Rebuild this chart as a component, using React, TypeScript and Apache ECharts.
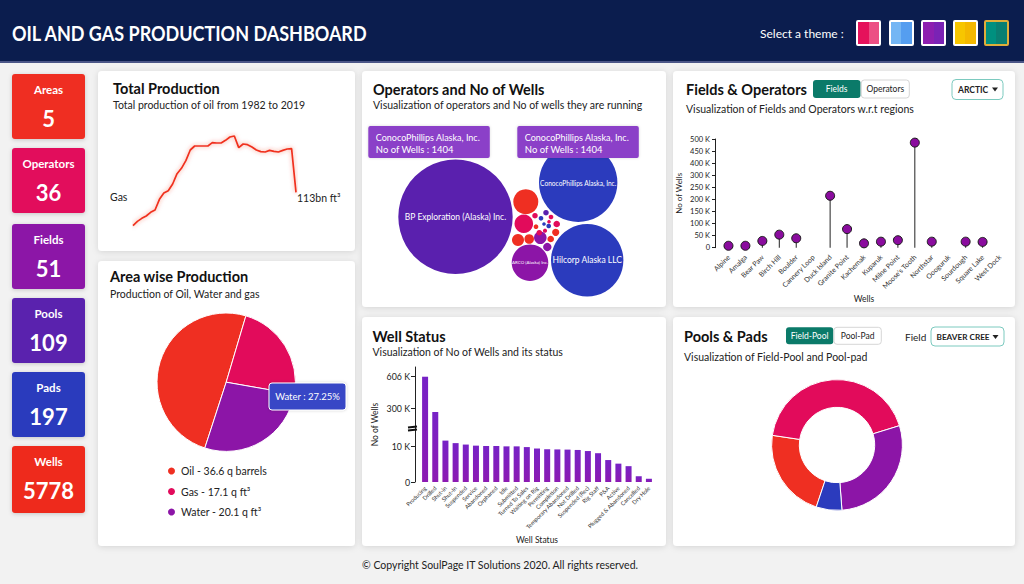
import React, { useEffect, useRef } from 'react';
import * as echarts from 'echarts';

const FONT = 'Lato, "Open Sans", Arial, sans-serif';

// ---------- DATA ----------
const kpiLabels = ['Areas', 'Operators', 'Fields', 'Pools', 'Pads', 'Wells'];
const kpiValues = [5, 36, 51, 109, 197, 5778];

const years = ['1982','1983','1984','1985','1986','1987','1988','1989','1990','1991','1992','1993','1994','1995','1996','1997','1998','1999','2000','2001','2002','2003','2004','2005','2006','2007','2008','2009','2010','2011','2012','2013','2014','2015','2016','2017','2018','2019'];
const productionValues = [13,26,35,42,53,60,92,111,118,138,169,185,208,240,252,252,252,252,262,261,261,269,279,282,247,258,256,249,240,235,234,239,236,234,239,243,244,113];
const productionLabel = 'Gas';
const productionUnit = 'bn ft³';

const areaNames = ['Oil', 'Gas', 'Water'];
const areaValues = [36.6, 17.1, 20.1];
const areaUnits = ['q barrels', 'q ft³', 'q ft³'];
const areaTooltip = 'Water : 27.25%';

const operatorNames = [
  'BP Exploration (Alaska) Inc.', 'ConocoPhillips Alaska, Inc.', 'Hilcorp Alaska LLC', 'ARCO (Alaska) Inc.',
  'Operator 5', 'Operator 6', 'Operator 7', 'Operator 8', 'Operator 9', 'Operator 10',
  'Operator 11', 'Operator 12', 'Operator 13', 'Operator 14', 'Operator 15', 'Operator 16',
  'Operator 17', 'Operator 18', 'Operator 19', 'Operator 20', 'Operator 21', 'Operator 22', 'Operator 23',
];
const operatorWells = [2990, 1404, 1197, 306, 143, 79, 33, 21, 36, 16, 7, 5, 7, 5, 10, 12, 10, 5, 7, 3, 5, 4, 3];
// packed-bubble layout
const operatorLayoutX = [95.5, 218.2, 227.2, 170, 165.8, 163.8, 158, 169.2, 180.3, 187.3, 175, 181, 186, 191, 196.7, 195.7, 190.7, 176, 179.3, 184, 188.7, 185, 189];
const operatorLayoutY = [146.8, 112.7, 190.3, 192.7, 131.7, 153.7, 170, 169, 167.7, 177, 145.7, 148.3, 142.7, 147, 154, 162.3, 169, 156.7, 162.7, 154, 156, 160.7, 151.7];
const operatorTooltipName = 'ConocoPhillips Alaska, Inc.';
const operatorTooltipWells = 1404;

const fieldNames = ['Alpine','Amalga','Bear Paw','Birch Hill','Boulder','Cannery Loop','Duck Island','Granite Point','Kachemak','Kuparuk','Milne Point',"Moose's Tooth",'Northstar','Oooguruk','Sourdough','Square Lake','West Dock'];
const fieldWellsK = [8, 8, 28, 54, 39, null, 215, 77, 18, 25, 31, 485, 25, null, 25, 24, null];
const fieldTickValuesK = [0, 50, 100, 150, 200, 250, 300, 400, 450, 500];

const wellStatusNames = ['Producing','Drilled','Shut-in','Shut-In','Suspended','Service','Abandoned','Orphaned','Idle','Submitted','Turned To Sales','Waiting on Rig','Permitting','Completion','Temporary Abandoned','Not Drilled','Suspended (Rec)','Rig Staff','P&A','Active','Plugged & Abandoned','Cancelled','Dry Hole'];
const wellStatusValues = [606000, 265000, 11500, 10800, 10400, 10100, 10000, 10000, 9900, 9900, 9700, 9300, 9100, 9050, 9000, 8900, 8600, 8000, 6100, 5100, 4400, 1600, 900];
const wellTickValues = [0, 10000, 300000, 606000];

const poolNames = ['Pool A', 'Pool B', 'Pool C', 'Pool D'];
const poolValues = [14, 27, 18, 4];

// ---------- STYLE ----------
const RED = '#ef2f22';
const CRIMSON = '#e20b5b';
const PURPLE = '#8c15a7';
const VIOLET = '#5a20ae';
const BLUE = '#2b3bbd';
const TEAL = '#0b7a69';
const kpiColors = [RED, CRIMSON, PURPLE, VIOLET, BLUE, '#ee2a1e'];
const areaColors = [RED, CRIMSON, PURPLE];
const poolColors = [RED, CRIMSON, PURPLE, BLUE];
const bubbleColors = [VIOLET, BLUE, BLUE, PURPLE, RED, CRIMSON, RED, RED, PURPLE, PURPLE, CRIMSON, BLUE, VIOLET, CRIMSON, CRIMSON, RED, RED, RED, CRIMSON, BLUE, BLUE, CRIMSON, CRIMSON];
const bubbleLabelSizes = [8.5, 6.6, 8.5, 4.4];

const fmtK = (v: number) => (v === 0 ? '0' : `${v / 1000} K`);

// piecewise scale for the fields axis (ticks are evenly spaced)
const fieldScale = (vK: number) => {
  const t = fieldTickValuesK;
  for (let i = 0; i < t.length - 1; i++) {
    if (vK <= t[i + 1]) return i + (vK - t[i]) / (t[i + 1] - t[i]);
  }
  return t.length - 1;
};
// broken axis for well status
const WELL_LOWER_MAX = 15000;
const WELL_UPPER_MIN = 110000;
const WELL_AXIS_MAX = 700000;
const wellScale = (v: number) =>
  v <= WELL_LOWER_MAX ? (v / WELL_LOWER_MAX) * 54 : 54 + ((v - WELL_UPPER_MIN) / (WELL_AXIS_MAX - WELL_UPPER_MIN)) * 61;

const txt = (x: number, y: number, text: string, size: number, o: any = {}) => ({
  type: 'text',
  x,
  y,
  z: o.z ?? 20,
  scaleX: o.scaleX ?? 1,
  style: {
    text,
    fill: o.color ?? '#111',
    font: `${o.weight ?? 'normal'} ${size}px ${FONT}`,
    textAlign: o.align ?? 'left',
    textVerticalAlign: 'middle',
  },
});
const rect = (x: number, y: number, w: number, h: number, style: any, r = 4, z = 1) => ({
  type: 'rect',
  z,
  shape: { x, y, width: w, height: h, r },
  style,
});
const panel = (x: number, y: number, w: number, h: number) =>
  rect(x, y, w, h, { fill: '#fff', shadowBlur: 6, shadowColor: 'rgba(0,0,0,0.13)', shadowOffsetY: 1 }, 4, 0);

function buildGraphic() {
  const g: any[] = [];
  // header
  g.push(rect(0, 0, 1024, 62, { fill: '#0b1d4e' }, 0, 0));
  g.push(rect(0, 61, 1024, 2, { fill: '#4b5687' }, 0, 0));
  g.push(txt(12, 33, 'OIL AND GAS PRODUCTION DASHBOARD', 20, { color: '#fff', weight: 'bold', scaleX: 0.9 }));
  g.push(txt(760, 33, 'Select a theme :', 12, { color: '#fff' }));
  const swatches = [
    ['#e5125b', '#ec5084', '#fff'],
    ['#74b6f4', '#559ef0', '#fff'],
    ['#8d1fb0', '#7a23b5', '#fff'],
    ['#f7c600', '#f4b800', '#fff'],
    ['#00907f', '#0a7f72', '#e0ae3a'],
  ];
  const swX = [857, 890, 922, 954, 985];
  swatches.forEach((c, i) => {
    g.push(
      rect(swX[i], 21, 23, 24, {
        fill: new echarts.graphic.LinearGradient(0, 0, 1, 0, [
          { offset: 0, color: c[0] },
          { offset: 0.5, color: c[0] },
          { offset: 0.5, color: c[1] },
          { offset: 1, color: c[1] },
        ]),
        stroke: c[2],
        lineWidth: 2,
      }, 1, 2)
    );
  });

  // KPI cards
  const kTops = [74, 148, 224, 298, 372, 446];
  kpiLabels.forEach((l, i) => {
    g.push(rect(12, kTops[i], 73, i === 5 ? 67 : 65, { fill: kpiColors[i], shadowBlur: 4, shadowColor: 'rgba(0,0,0,0.18)', shadowOffsetY: 1 }, 3, 1));
    g.push(txt(48.5, kTops[i] + 15, l, 11.5, { color: '#fff', weight: 'bold', align: 'center' }));
    g.push(txt(48.5, kTops[i] + 44, String(kpiValues[i]), 22, { color: '#fff', weight: 'bold', align: 'center' }));
  });

  // panels
  g.push(panel(98, 71, 257, 180));
  g.push(panel(98, 261, 257, 285));
  g.push(panel(362, 71, 304, 236));
  g.push(panel(362, 317, 304, 229));
  g.push(panel(673, 71, 342, 236));
  g.push(panel(673, 317, 342, 229));

  // Total production
  g.push(txt(113, 88, 'Total Production', 14.5, { weight: 'bold' }));
  g.push(txt(113, 105, 'Total production of oil from 1982 to 2019', 10.5, { color: '#222' }));
  g.push(txt(110, 197, productionLabel, 10.5, { color: '#222' }));
  g.push(txt(297, 198, `${productionValues[productionValues.length - 1]}${productionUnit}`, 10.5, { color: '#222' }));

  // Area wise
  g.push(txt(110, 276, 'Area wise Production', 14.5, { weight: 'bold' }));
  g.push(txt(110, 294, 'Production of Oil, Water and gas', 10.5, { color: '#222' }));
  g.push(rect(269, 383, 77, 27, { fill: '#3846c6', stroke: '#fff', lineWidth: 1, shadowBlur: 3, shadowColor: 'rgba(0,0,0,0.2)' }, 3, 100));
  g.push(txt(307.5, 396.7, areaTooltip, 9.5, { color: '#fff', align: 'center', z: 101 }));

  // Operators
  g.push(txt(373, 89, 'Operators and No of Wells', 14.5, { weight: 'bold' }));
  g.push(txt(373, 105, 'Visualization of operators and No of wells they are running', 10.5, { color: '#222' }));
  [368.3, 517.3].forEach((bx) => {
    g.push(rect(bx, 126, 121.5, 32, { fill: '#8b3fc8', shadowBlur: 3, shadowColor: 'rgba(0,0,0,0.15)' }, 2, 100));
    g.push(txt(bx + 7.5, 137, operatorTooltipName, 10, { color: '#fff', z: 101, scaleX: 0.9 }));
    g.push(txt(bx + 7.5, 149, `No of Wells : ${operatorTooltipWells}`, 10, { color: '#fff', z: 101, scaleX: 0.95 }));
  });

  // Fields & Operators
  g.push(txt(686, 89, 'Fields & Operators', 14.5, { weight: 'bold' }));
  g.push(rect(813, 80, 47.5, 18, { fill: TEAL }, 3, 2));
  g.push(txt(836.5, 89, 'Fields', 8.5, { color: '#fff', align: 'center' }));
  g.push(rect(861.3, 80, 48, 18, { fill: '#fff', stroke: '#d6d6d6', lineWidth: 1 }, 3, 2));
  g.push(txt(885.3, 89, 'Operators', 8.5, { color: '#222', align: 'center' }));
  g.push(rect(952, 79.5, 51, 20, { fill: '#fff', stroke: '#7ccabf', lineWidth: 1 }, 4, 2));
  g.push(txt(958, 89.5, 'ARCTIC', 8.5, { color: '#222', weight: 'bold' }));
  g.push({ type: 'polygon', z: 20, shape: { points: [[992, 87.5], [998, 87.5], [995, 91.5]] }, style: { fill: '#222' } });
  g.push(txt(686, 109, 'Visualization of Fields and Operators w.r.t regions', 10.5, { color: '#222' }));

  // Well status
  g.push(txt(372.5, 336, 'Well Status', 14.5, { weight: 'bold' }));
  g.push(txt(372.5, 352, 'Visualization of No of Wells and its status', 10.5, { color: '#222' }));
  g.push({ type: 'line', z: 30, shape: { x1: 408, y1: 427.5, x2: 417, y2: 426.5 }, style: { stroke: '#111', lineWidth: 1.8 } });
  g.push({ type: 'line', z: 30, shape: { x1: 408, y1: 430.5, x2: 417, y2: 429.5 }, style: { stroke: '#111', lineWidth: 1.8 } });

  // Pools & Pads
  g.push(txt(684, 336, 'Pools & Pads', 14.5, { weight: 'bold' }));
  g.push(rect(786, 327.3, 47.3, 17, { fill: TEAL }, 3, 2));
  g.push(txt(809.6, 336, 'Field-Pool', 8.5, { color: '#fff', align: 'center' }));
  g.push(rect(834, 327.3, 47.3, 17, { fill: '#fff', stroke: '#d6d6d6', lineWidth: 1 }, 3, 2));
  g.push(txt(857.6, 336, 'Pool-Pad', 8.5, { color: '#222', align: 'center' }));
  g.push(txt(905, 336.5, 'Field', 10, { color: '#222' }));
  g.push(rect(931, 327, 73, 19, { fill: '#fff', stroke: '#7ccabf', lineWidth: 1 }, 4, 2));
  g.push(txt(936.5, 336.8, 'BEAVER CREE', 8.2, { color: '#222', weight: 'bold' }));
  g.push({ type: 'polygon', z: 20, shape: { points: [[992.5, 335], [998.5, 335], [995.5, 339]] }, style: { fill: '#222' } });
  g.push(txt(684, 357, 'Visualization of Field-Pool and Pool-pad', 10.5, { color: '#222' }));

  // footer
  g.push(txt(362, 565, '© Copyright SoulPage IT Solutions 2020. All rights reserved.', 10.5, { color: '#222' }));
  return g;
}

function buildOption(): any {
  const hidden = { show: false };
  return {
    animation: false,
    backgroundColor: '#f2f2f2',
    textStyle: { fontFamily: FONT },
    graphic: { elements: buildGraphic() },
    legend: {
      data: areaNames.map((n, i) => ({ name: n, itemStyle: { color: areaColors[i] } })),
      orient: 'vertical',
      left: 161,
      top: 460,
      itemWidth: 9,
      itemHeight: 9,
      itemGap: 8.5,
      icon: 'circle',
      selectedMode: false,
      textStyle: { fontSize: 10.5, color: '#222', lineHeight: 12, fontFamily: FONT },
      formatter: (name: string) => {
        const i = areaNames.indexOf(name);
        return `${name} - ${areaValues[i]} ${areaUnits[i]}`;
      },
    },
    grid: [
      { left: 133, top: 130, width: 163, height: 100 },
      { left: 360, top: 70, width: 310, height: 240 },
      { left: 720, top: 139, width: 288, height: 108.7 },
      { left: 420, top: 367, width: 234, height: 115 },
    ],
    xAxis: [
      { gridIndex: 0, type: 'category', data: years, boundaryGap: false, show: false },
      { gridIndex: 1, type: 'value', min: 0, max: 310, show: false },
      {
        gridIndex: 2,
        type: 'category',
        data: fieldNames,
        axisLine: hidden,
        axisTick: hidden,
        axisLabel: { rotate: 45, interval: 0, fontSize: 7, color: '#333', margin: 8 },
        name: 'Wells',
        nameLocation: 'middle',
        nameGap: 47,
        nameTextStyle: { fontSize: 8.5, color: '#222' },
      },
      {
        gridIndex: 3,
        type: 'category',
        data: wellStatusNames,
        axisLine: hidden,
        axisTick: hidden,
        axisLabel: { rotate: 45, interval: 0, fontSize: 5.8, color: '#333', margin: 5 },
        name: 'Well Status',
        nameLocation: 'middle',
        nameGap: 53,
        nameTextStyle: { fontSize: 8.5, color: '#222' },
      },
    ],
    yAxis: [
      { gridIndex: 0, type: 'value', min: 0, max: 300, show: false },
      { gridIndex: 1, type: 'value', min: 0, max: 240, inverse: true, show: false },
      {
        gridIndex: 2,
        type: 'value',
        min: 0,
        max: fieldTickValuesK.length - 1,
        interval: 1,
        offset: 5,
        splitLine: hidden,
        axisLine: { show: true, lineStyle: { color: '#222', width: 1 } },
        axisTick: { show: true, length: 3, lineStyle: { color: '#222' } },
        axisLabel: { fontSize: 7.5, color: '#222', margin: 5, formatter: (v: number) => fmtK(fieldTickValuesK[Math.round(v)] * 1000) },
        name: 'No of Wells',
        nameLocation: 'middle',
        nameRotate: 90,
        nameGap: 32,
        nameTextStyle: { fontSize: 8, color: '#222' },
      },
      {
        gridIndex: 3,
        type: 'value',
        min: 0,
        max: 115,
        offset: 5,
        splitLine: hidden,
        axisLine: { show: true, lineStyle: { color: '#222', width: 1 } },
        axisTick: { show: true, length: 4, lineStyle: { color: '#222' }, customValues: wellTickValues.map(wellScale) },
        axisLabel: {
          fontSize: 8.8,
          color: '#222',
          margin: 5,
          customValues: wellTickValues.map(wellScale),
          formatter: (v: number) => {
            let best = 0;
            wellTickValues.forEach((t, i) => {
              if (Math.abs(wellScale(t) - v) < Math.abs(wellScale(wellTickValues[best]) - v)) best = i;
            });
            return fmtK(wellTickValues[best]);
          },
        },
        name: 'No of Wells',
        nameLocation: 'middle',
        nameRotate: 90,
        nameGap: 36,
        nameTextStyle: { fontSize: 8.5, color: '#222' },
      },
    ],
    series: [
      {
        type: 'line',
        xAxisIndex: 0,
        yAxisIndex: 0,
        data: productionValues,
        symbol: 'none',
        silent: true,
        itemStyle: { color: '#f0311f' },
        lineStyle: { color: '#f0311f', width: 1.7, shadowColor: 'rgba(240,49,31,0.5)', shadowBlur: 4 },
      },
      {
        type: 'pie',
        center: [226.2, 382.2],
        radius: 69.2,
        startAngle: 252,
        silent: true,
        label: { show: false },
        labelLine: { show: false },
        itemStyle: { borderColor: '#fff', borderWidth: 1 },
        data: areaNames.map((n, i) => ({ name: n, value: areaValues[i], itemStyle: { color: areaColors[i] } })),
      },
      {
        type: 'scatter',
        xAxisIndex: 1,
        yAxisIndex: 1,
        silent: true,
        symbolSize: (v: number[]) => 2.092 * Math.sqrt(v[2]),
        itemStyle: { opacity: 1 },
        label: { show: false, position: 'inside', color: '#fff', formatter: '{b}' },
        data: operatorNames.map((n, i) => ({
          name: n,
          value: [operatorLayoutX[i], operatorLayoutY[i], operatorWells[i]],
          itemStyle: { color: bubbleColors[i], opacity: 1 },
          label: i < 4 ? { show: true, fontSize: bubbleLabelSizes[i] } : { show: false },
        })),
      },
      {
        type: 'bar',
        xAxisIndex: 2,
        yAxisIndex: 2,
        barWidth: 1,
        silent: true,
        itemStyle: { color: '#222' },
        data: fieldWellsK.map((v) => (v == null ? '-' : fieldScale(v))),
      },
      {
        type: 'scatter',
        xAxisIndex: 2,
        yAxisIndex: 2,
        symbolSize: 9,
        silent: true,
        z: 5,
        itemStyle: { color: '#8a0c9e', borderColor: '#1a1a1a', borderWidth: 1, opacity: 1 },
        data: fieldWellsK.map((v) => (v == null ? '-' : fieldScale(v))),
      },
      {
        type: 'bar',
        xAxisIndex: 3,
        yAxisIndex: 3,
        barWidth: 6,
        silent: true,
        itemStyle: {
          color: new echarts.graphic.LinearGradient(0, 0, 0, 1, [
            { offset: 0, color: '#7722c6' },
            { offset: 1, color: '#8c1ab2' },
          ]),
        },
        data: wellStatusValues.map(wellScale),
      },
      {
        type: 'pie',
        center: [837, 445],
        radius: [37.7, 65.4],
        startAngle: 251.5,
        silent: true,
        label: { show: false },
        labelLine: { show: false },
        itemStyle: { borderColor: '#fff', borderWidth: 1 },
        data: poolNames.map((n, i) => ({ name: n, value: poolValues[i], itemStyle: { color: poolColors[i] } })),
      },
    ],
  };
}

export default function App() {
  const ref = useRef<HTMLDivElement>(null);
  useEffect(() => {
    if (!ref.current) return;
    const chart = echarts.init(ref.current, null, { renderer: 'svg' });
    chart.setOption(buildOption());
    return () => chart.dispose();
  }, []);
  return <div ref={ref} style={{ position: 'absolute', left: 0, top: 0, width: 1024, height: 584 }} />;
}
